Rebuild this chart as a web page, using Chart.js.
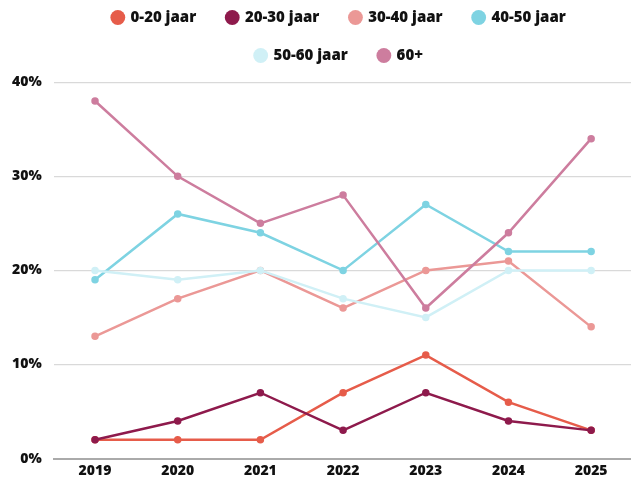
<!DOCTYPE html>
<html>
<head>
<meta charset="utf-8">
<script src="https://cdn.jsdelivr.net/npm/chart.js@4"></script>
<style>
  html, body { margin: 0; padding: 0; background: #fff; }
  #wrap { width: 631px; height: 477px; overflow: hidden; position: relative; }
  /* plot runs slightly past the right and bottom edges, as in the original */
  #chart { position: absolute; left: 0; top: 0; }
</style>
</head>
<body>
<div id="wrap"><canvas id="chart" width="638" height="479"></canvas></div>
<script>
const years = ["2019", "2020", "2021", "2022", "2023", "2024", "2025"];
const age_0_20 = [2, 2, 2, 7, 11, 6, 3];
const age_20_30 = [2, 4, 7, 3, 7, 4, 3];
const age_30_40 = [13, 17, 20, 16, 20, 21, 14];
const age_40_50 = [19, 26, 24, 20, 27, 22, 22];
const age_50_60 = [20, 19, 20, 17, 15, 20, 20];
const age_60_plus = [38, 30, 25, 28, 16, 24, 34];
const y_ticks = [0, 10, 20, 30, 40];

// later series sit on top of earlier ones, like the original
function makeSet (label, data, color, idx) {
  return {
    label : label,
    data : data,
    order : 10 - idx,
    borderColor : color,
    backgroundColor : color,
    borderWidth : 2.5,
    pointRadius : 2.5,
    pointHoverRadius : 3,
    pointStyle : "circle",
    lineTension : 0,
    fill : false
  };
}

const font_family = "'Open Sans', sans-serif";

new Chart(document.getElementById("chart"), {
  type : "line",
  data : {
    labels : years,
    datasets : [
      makeSet("0-20 jaar", age_0_20, "#e65c4a", 0),
      makeSet("20-30 jaar", age_20_30, "#8e1a4c", 1),
      makeSet("30-40 jaar", age_30_40, "#eb9896", 2),
      makeSet("40-50 jaar", age_40_50, "#7ed3e2", 3),
      makeSet("50-60 jaar", age_50_60, "#d0f0f6", 4),
      makeSet("60+", age_60_plus, "#cd7d9e", 5)
    ]
  },
  options : {
    animation : false,
    responsive : false,
    devicePixelRatio : 1,
    layout : { padding : { left : 0, right : 0, top : -13, bottom : -5 } },
    plugins : {
      // empty title used only as a spacer between legend and plot
      title : {
        display : true,
        text : "",
        weight : 500,
        font : { size : 1 },
        padding : { top : 0, bottom : 8 }
      },
      legend : {
        display : true,
        position : "top",
        fullSize : false,
        maxWidth : 570,
        labels : {
          usePointStyle : true,
          pointStyle : "circle",
          boxWidth : 10.5,
          boxHeight : 10.5,
          padding : 23,
          color : "#111",
          font : { family : font_family, size : 15, weight : "800" },
          sort : function (a, b) { return a.datasetIndex - b.datasetIndex; },
          generateLabels : function (chart) {
            let items = Chart.defaults.plugins.legend.labels.generateLabels(chart);
            items.forEach(function (it) {
              it.text = it.text + "\u00a0\u00a0";
              it.lineWidth = 0;
            });
            return items;
          }
        }
      },
      tooltip : { enabled : false }
    },
    scales : {
      x : {
        offset : true,
        grid : { display : false, drawTicks : false },
        border : { color : "#aaa", width : 2 },
        ticks : {
          color : "#111",
          padding : 4,
          font : { family : font_family, size : 14, weight : "800" }
        }
      },
      y : {
        min : 0,
        max : 40,
        afterBuildTicks : function (axis) {
          axis.ticks = y_ticks.map(v => ({ value : v }));
        },
        grid : { color : "#d9d9d9", lineWidth : 1.3, drawTicks : false },
        border : { display : false },
        ticks : {
          color : "#111",
          padding : 12,
          font : { family : font_family, size : 14, weight : "800" },
          callback : function (v) { return v + "%"; }
        }
      }
    }
  }
});
</script>
</body>
</html>
